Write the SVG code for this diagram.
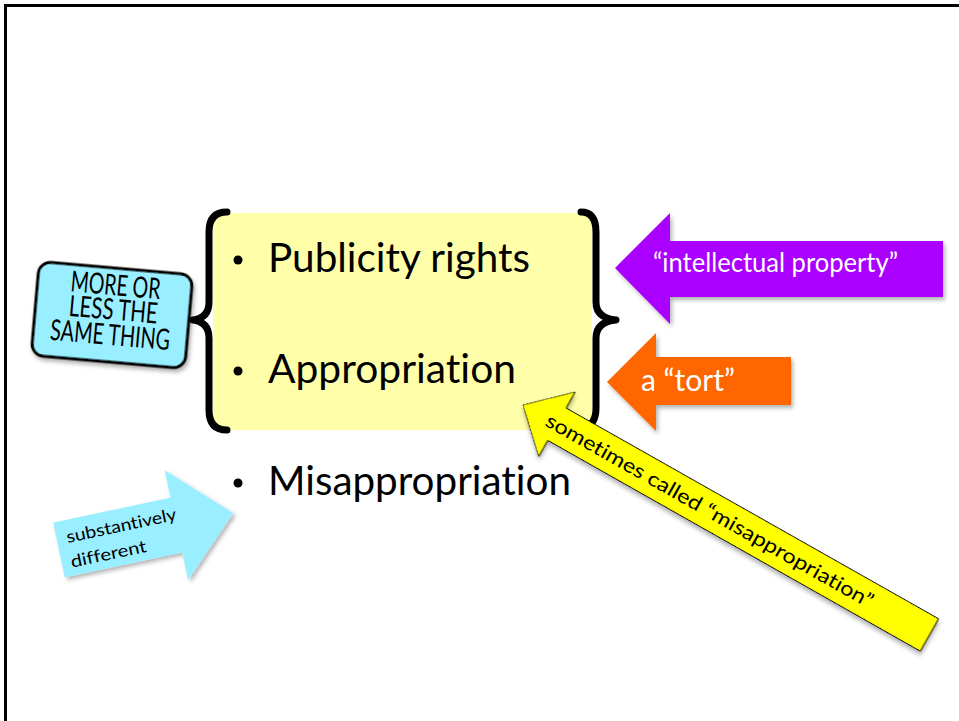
<svg xmlns="http://www.w3.org/2000/svg" width="959" height="721" viewBox="0 0 959 721">
<defs>
<filter id="sh" x="-20%" y="-20%" width="140%" height="140%">
<feDropShadow dx="2" dy="3" stdDeviation="2" flood-color="#000" flood-opacity="0.3"/>
</filter>
<style>
text{font-variant-ligatures:none;font-feature-settings:"liga" 0,"clig" 0}
.main{font-family:Lato,"Open Sans","Liberation Sans",sans-serif;font-size:40px;fill:#000}
.brace{fill:none;stroke:#000;stroke-width:7;stroke-linecap:round;stroke-linejoin:round}
.lbl{font-family:Lato,"Open Sans","Liberation Sans",sans-serif}
.white{fill:#fff}
</style>
</defs>
<rect width="959" height="721" fill="#fff"/>
<path d="M5.5,730 V5.5 H970" fill="none" stroke="#000" stroke-width="3"/>

<g id="list">
<rect x="213" y="213" width="379" height="217" fill="#ffffaa"/>
<path class="brace" d="M227,212 Q209,212 209,232 V302 Q209,318 193,320 Q209,322 209,338 V410 Q209,430 227,430"/>
<path class="brace" d="M581,212 Q596,212 596,232 V302 Q596,318 616,320 Q596,322 596,338 V408 Q596,426 582,428"/>
<circle cx="238" cy="260" r="4.5"/>
<circle cx="238" cy="371" r="4.5"/>
<circle cx="238" cy="483" r="4.5"/>
<text class="main" x="268" y="272" textLength="262" lengthAdjust="spacingAndGlyphs">Publicity rights</text>
<text class="main" x="268" y="383" textLength="248" lengthAdjust="spacingAndGlyphs">Appropriation</text>
<text class="main" x="268" y="495" textLength="303" lengthAdjust="spacingAndGlyphs">Misappropriation</text>
</g>

<g id="same-thing" transform="translate(112,315) rotate(5)">
<rect x="-77" y="-47" width="154" height="94" rx="12" fill="#99eeff" stroke="#000" stroke-width="3" filter="url(#sh)"/>
<g class="lbl" font-size="29" text-anchor="middle" fill="#000">
<text x="1" y="-20" textLength="90" lengthAdjust="spacingAndGlyphs">MORE OR</text>
<text x="1" y="4.5" textLength="89" lengthAdjust="spacingAndGlyphs">LESS THE</text>
<text x="0" y="30" textLength="120" lengthAdjust="spacingAndGlyphs">SAME THING</text>
</g>
</g>

<g id="intellectual-property">
<polygon points="615,268 670,213 670,241 943,241 943,297 670,297 670,324" fill="#aa00ff" filter="url(#sh)"/>
<text class="lbl white" x="653" y="272" font-size="26" textLength="245" lengthAdjust="spacingAndGlyphs">“intellectual property”</text>
</g>

<g id="tort">
<polygon points="607,382 656,333 656,357 791,357 791,405 656,405 656,431" fill="#ff6600" filter="url(#sh)"/>
<text class="lbl white" x="641" y="391" font-size="31" textLength="94" lengthAdjust="spacingAndGlyphs">a “tort”</text>
</g>

<g id="substantively-different" transform="translate(59,550) rotate(-12)">
<polygon points="0,-28 120,-28 120,-56 178,0 120,56 120,28 0,28" fill="#99eeff" filter="url(#sh)"/>
<g class="lbl" font-size="17" fill="#000">
<text x="10" y="-5" textLength="112" lengthAdjust="spacingAndGlyphs">substantively</text>
<text x="9" y="20" textLength="77" lengthAdjust="spacingAndGlyphs">different</text>
</g>
</g>

<g id="sometimes-called" transform="translate(523,405) rotate(29.5)">
<polygon points="0,0 39,-37 39,-18.5 467,-18.5 467,18.5 39,18.5 39,37" fill="#ffff00" stroke="#000" stroke-width="1" stroke-linejoin="round" filter="url(#sh)"/>
<text class="lbl" x="28" y="7" font-size="20" fill="#000" textLength="373" lengthAdjust="spacingAndGlyphs">sometimes called “misappropriation”</text>
</g>
</svg>
